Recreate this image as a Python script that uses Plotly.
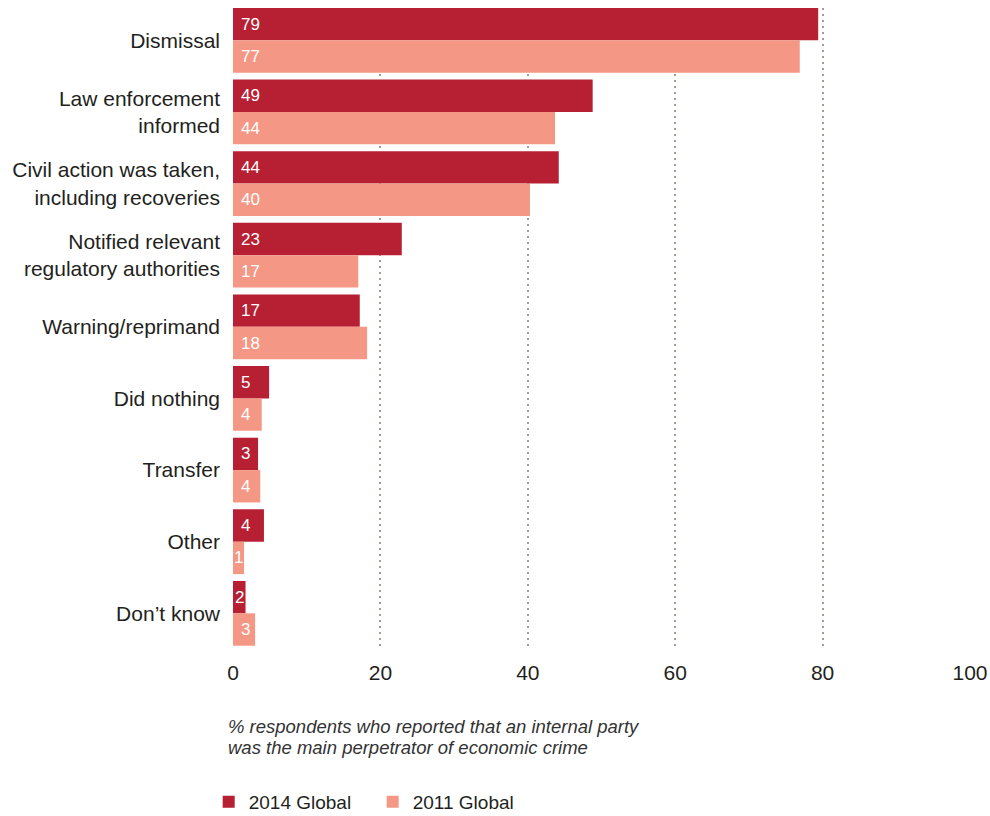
import plotly.graph_objects as go

categories = [
    "Dismissal",
    "Law enforcement<br>informed",
    "Civil action was taken,<br>including recoveries",
    "Notified relevant<br>regulatory authorities",
    "Warning/reprimand",
    "Did nothing",
    "Transfer",
    "Other",
    "Don\u2019t know",
]
# bar lengths
values_2014 = [79.4, 48.8, 44.2, 22.9, 17.2, 4.9, 3.4, 4.2, 1.7]
values_2011 = [76.9, 43.7, 40.3, 17.0, 18.2, 3.9, 3.7, 1.5, 3.0]
# printed labels
labels_2014 = ["79", "49", "44", "23", "17", "5", "3", "4", "2"]
labels_2011 = ["77", "44", "40", "17", "18", "4", "4", "1", "3"]
x_ticks = [0, 20, 40, 60, 80, 100]
series_names = ["2014 Global", "2011 Global"]

C2014 = "#B71F33"
C2011 = "#F59785"
FONT = "Liberation Sans, Arial, Helvetica, sans-serif"
TEXT = "#231F20"

W, H = 990, 816
L, R, T, B = 233, 20, 8, 166
PLOT_H = H - T - B

fig = go.Figure()
for name, vals, col in [(series_names[0], values_2014, C2014), (series_names[1], values_2011, C2011)]:
    fig.add_trace(go.Bar(
        y=categories, x=vals, name=name, orientation="h",
        marker=dict(color=col, line=dict(width=0)),
        hoverinfo="skip",
    ))

# value labels inside bars
PX_PER_UNIT = (W - L - R) / 100.0
LABEL_SIZE = 17
annotations = []
for vals, labs, shift in [(values_2014, labels_2014, 16.2), (values_2011, labels_2011, -16.2)]:
    for cat, v, lab in zip(categories, vals, labs):
        w = 0.556 * LABEL_SIZE * len(lab)
        if 8 + w > v * PX_PER_UNIT:
            a = dict(x=v / 2, xanchor="center", xshift=0)
        else:
            a = dict(x=0, xanchor="left", xshift=6)
        a.update(xref="x", yref="y", y=cat, yshift=shift, yanchor="middle",
                 text=lab, showarrow=False,
                 font=dict(color="white", size=LABEL_SIZE, family=FONT))
        annotations.append(a)

def py(pixel_y):
    return (H - B - pixel_y) / PLOT_H

for txt, yy in [("% respondents who reported that an internal party", 726),
                ("was the main perpetrator of economic crime", 748)]:
    annotations.append(dict(
        xref="paper", yref="paper", x=-0.010, y=py(yy), xanchor="left", yanchor="middle",
        align="left", showarrow=False, text="<i>" + txt + "</i>",
        font=dict(size=18.5, color="#333333", family=FONT),
    ))

fig.update_layout(
    width=W, height=H,
    margin=dict(l=L, r=R, t=T, b=B, autoexpand=False),
    barmode="group", bargap=0.096, bargroupgap=0,
    plot_bgcolor="white", paper_bgcolor="white",
    font=dict(family=FONT, color=TEXT, size=21),
    showlegend=True,
    legend=dict(orientation="h", x=-0.033, xanchor="left",
                yref="container", y=(H - 802) / H, yanchor="middle",
                font=dict(size=19, color=TEXT), traceorder="normal",
                itemwidth=30, entrywidth=119, entrywidthmode="pixels"),
    xaxis=dict(range=[0, 100], tickvals=x_ticks, showgrid=True, gridcolor="#A59C96",
               griddash="2px,4px", gridwidth=2, zeroline=False, showline=False,
               ticks="", tickfont=dict(size=21, color=TEXT), ticklabelstandoff=8),
    yaxis=dict(range=[8.512, -0.452], showgrid=False, zeroline=False, showline=False,
               ticks="", tickfont=dict(size=21, color=TEXT), ticklabelstandoff=12),
    annotations=annotations,
)

fig.write_html("out.html", config={"displayModeBar": False},
               post_script="document.body.style.margin='0px';")
